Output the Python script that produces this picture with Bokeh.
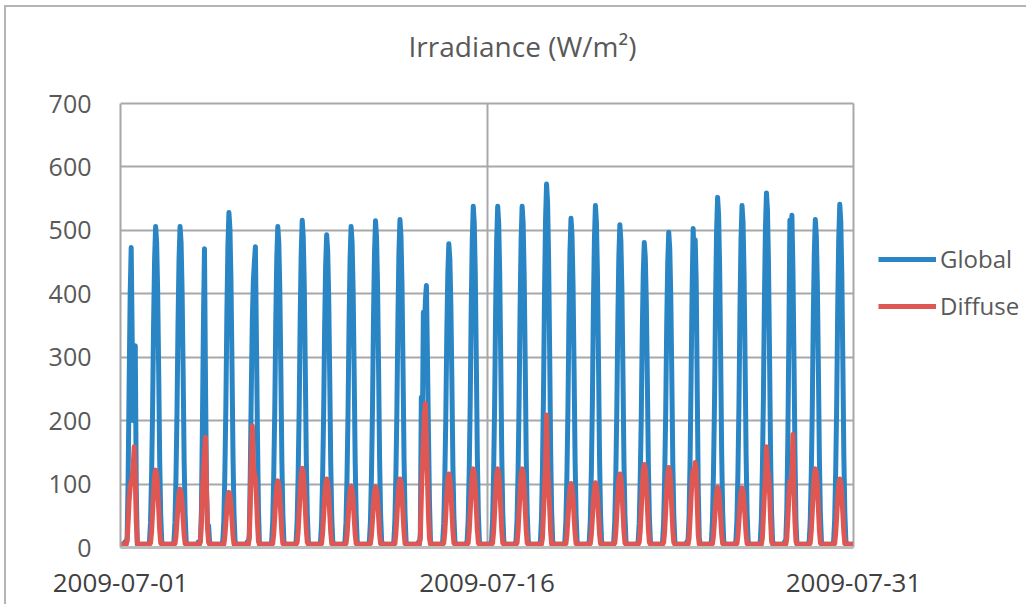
from datetime import datetime, timedelta
import calendar

from bokeh.plotting import figure
from bokeh.models import (Range1d, FixedTicker, DatetimeTickFormatter, Legend,
                          LegendItem, Label, ColumnDataSource, Grid)
from bokeh.embed import file_html
from bokeh.resources import INLINE

# ---------------- data ----------------
DAYS = [f"2009-07-{d:02d}" for d in range(1, 31)]

# daily maximum of each series, W/m²
GLOBAL_PEAK = [473, 506, 506, 471, 528, 474, 506, 516, 493, 506,
               515, 517, 413, 479, 538, 538, 538, 573, 519, 539,
               509, 481, 497, 503, 552, 539, 559, 524, 517, 541]
DIFFUSE_PEAK = [159, 122, 92, 174, 87, 192, 105, 125, 108, 97,
                96, 108, 227, 116, 124, 124, 124, 209, 101, 102,
                116, 131, 126, 134, 95, 94, 159, 178, 124, 108]

# typical hourly course of a day (share of the daily maximum), hour slots 0..23
GLOBAL_SHAPE = [0, 0, 0, 0, 0.02, 0.08, 0.22, 0.42, 0.70, 0.90, 1.00, 0.95,
                0.80, 0.55, 0.27, 0.10, 0.02, 0, 0, 0, 0, 0, 0, 0]
DIFFUSE_SHAPE = [0, 0, 0, 0, 0, 0.06, 0.20, 0.45, 0.72, 0.92, 1.00, 0.95,
                 0.78, 0.50, 0.22, 0.06, 0, 0, 0, 0, 0, 0, 0, 0]
NIGHT = 5

# days whose course is irregular: hourly values for hours 5..17
GLOBAL_IRREGULAR = {
    1:  [5, 15, 110, 260, 400, 473, 330, 200, 260, 318, 90, 5, 5],
    4:  [5, 10, 60, 200, 360, 471, 260, 90, 30, 35, 10, 5, 5],
    6:  [5, 20, 120, 250, 360, 421, 450, 474, 330, 180, 60, 5, 5],
    13: [5, 20, 237, 180, 371, 340, 390, 413, 300, 180, 70, 10, 5],
    24: [10, 50, 140, 270, 410, 503, 450, 485, 420, 250, 90, 15, 5],
    28: [10, 60, 170, 330, 516, 490, 524, 440, 300, 150, 40, 5, 5],
}
DIFFUSE_IRREGULAR = {
    1:  [5, 10, 40, 75, 95, 105, 110, 130, 159, 110, 40, 8, 5],
    4:  [5, 10, 40, 90, 120, 150, 174, 90, 30, 8, 5, 5, 5],
    6:  [5, 15, 70, 140, 192, 130, 115, 110, 80, 40, 10, 5, 5],
    13: [5, 15, 80, 130, 170, 210, 227, 170, 110, 50, 15, 5, 5],
    18: [5, 15, 55, 95, 130, 209, 130, 100, 65, 25, 5, 5, 5],
    24: [5, 15, 45, 80, 110, 122, 118, 134, 120, 70, 20, 5, 5],
    27: [5, 15, 50, 85, 110, 159, 124, 115, 90, 45, 10, 5, 5],
    28: [5, 15, 45, 80, 105, 105, 110, 178, 90, 40, 10, 5, 5],
}

X_TICKS = ["2009-07-01", "2009-07-16", "2009-07-31"]
Y_TICKS = [0, 100, 200, 300, 400, 500, 600, 700]
TITLE = "Irradiance (W/m²)"
SERIES = ["Global", "Diffuse"]

# ---------------- build hourly table ----------------
def hourly(peaks, shape, irregular):
    out = []
    for d, pk in enumerate(peaks, start=1):
        for h in range(24):
            if d in irregular and 5 <= h <= 17:
                out.append(irregular[d][h - 5])
            else:
                out.append(max(NIGHT, round(pk * shape[h])))
    return out

times = []
for day in DAYS:
    base = datetime.strptime(day, "%Y-%m-%d")
    for h in range(24):
        times.append(base + timedelta(hours=h, minutes=30))

src = ColumnDataSource(dict(t=times,
                            g=hourly(GLOBAL_PEAK, GLOBAL_SHAPE, GLOBAL_IRREGULAR),
                            d=hourly(DIFFUSE_PEAK, DIFFUSE_SHAPE, DIFFUSE_IRREGULAR)))

def ms(s):
    return calendar.timegm(datetime.strptime(s, "%Y-%m-%d").timetuple()) * 1000.0

FONT = "Open Sans"

# ---------------- layout geometry (page pixels) ----------------
OX, OY = 6, 7                  # canvas origin on the page (after the chart border)
W, H = 1022, 599
PLOT_L, PLOT_R = 120, 853      # where the date axis 07-01 .. 07-31 lies
PLOT_T, PLOT_B = 103, 547      # where the value axis 700 .. 0 lies
FRAME_T, FRAME_R = 10, 1026    # frame widened so title and legend sit inside

x_start = ms(X_TICKS[0])
x_axis_end = ms(X_TICKS[-1])
y_axis_end = Y_TICKS[-1]

def x_at(px):
    return x_start + (x_axis_end - x_start) * (px - PLOT_L) / (PLOT_R - PLOT_L)

def y_at(py):
    return y_axis_end * (PLOT_B - py) / (PLOT_B - PLOT_T)

p = figure(width=W, height=H, x_axis_type="datetime",
           x_range=Range1d(x_start, x_at(FRAME_R)),
           y_range=Range1d(0, y_at(FRAME_T)),
           output_backend="svg", toolbar_location=None,
           min_border_left=PLOT_L - OX, min_border_right=W - (FRAME_R - OX),
           min_border_top=FRAME_T - OY, min_border_bottom=H - (PLOT_B - OY))
p.outline_line_color = None
p.background_fill_color = "white"
p.border_fill_color = "white"
p.styles = {"border-left": "2px solid #B4B4B4", "border-top": "2px solid #B4B4B4",
            "margin-left": f"{OX - 2}px", "margin-top": f"{OY - 2}px"}

p.xaxis.ticker = FixedTicker(ticks=[ms(s) for s in X_TICKS])
p.xgrid.ticker = FixedTicker(ticks=[ms(s) for s in X_TICKS])
p.yaxis.ticker = FixedTicker(ticks=Y_TICKS)
p.ygrid.ticker = FixedTicker(ticks=Y_TICKS)
p.xaxis.bounds = (x_start, x_axis_end)
p.yaxis.bounds = (0, y_axis_end)
if "cross_bounds" in Grid.properties():
    p.ygrid.cross_bounds = (x_start, x_axis_end)
    p.xgrid.cross_bounds = (0, y_axis_end)

fmt = "%Y-%m-%d"
p.xaxis.formatter = DatetimeTickFormatter(
    microseconds=fmt, milliseconds=fmt, seconds=fmt, minsec=fmt, minutes=fmt,
    hourmin=fmt, hours=fmt, days=fmt, months=fmt, years=fmt,
    strip_leading_zeros=False)

for g in (p.xgrid, p.ygrid):
    g.grid_line_color = "#A8A8A8"
    g.grid_line_width = 2

for ax in (p.xaxis, p.yaxis):
    ax.major_tick_line_color = None
    ax.minor_tick_line_color = None
    ax.major_tick_out = 0
    ax.major_tick_in = 0
    ax.major_label_text_font = FONT

p.yaxis.major_label_text_font_size = "25px"
p.xaxis.major_label_text_font_size = "26px"
p.yaxis.axis_line_color = "#A6A6A6"
p.yaxis.axis_line_width = 2
p.yaxis.major_label_text_color = "#595959"
p.yaxis.major_label_standoff = 29
p.xaxis.axis_line_color = "#BDBDBD"
p.xaxis.axis_line_width = 3
p.xaxis.major_label_text_color = "#404040"
p.xaxis.major_label_standoff = 26

r_g = p.line("t", "g", source=src, line_color="#2A85C4", line_width=5,
             line_join="round")
r_d = p.line("t", "d", source=src, line_color="#DF5753", line_width=5,
             line_join="round")

legend = Legend(items=[LegendItem(label=SERIES[0], renderers=[r_g]),
                       LegendItem(label=SERIES[1], renderers=[r_d])],
                location=(878 - PLOT_L, PLOT_B - 322), orientation="vertical",
                glyph_width=58, glyph_height=30, label_height=30,
                label_standoff=4, spacing=14, padding=0, margin=0,
                border_line_color=None, background_fill_alpha=0,
                label_text_font=FONT, label_text_font_size="24px",
                label_text_color="#595959")
p.add_layout(legend)

title = Label(x=x_at(522), y=y_at(45), text=TITLE,
              text_align="center", text_baseline="alphabetic",
              text_font=FONT, text_font_size="28px", text_color="#595959")
p.add_layout(title)

open("out.html", "w").write(file_html(p, INLINE))
